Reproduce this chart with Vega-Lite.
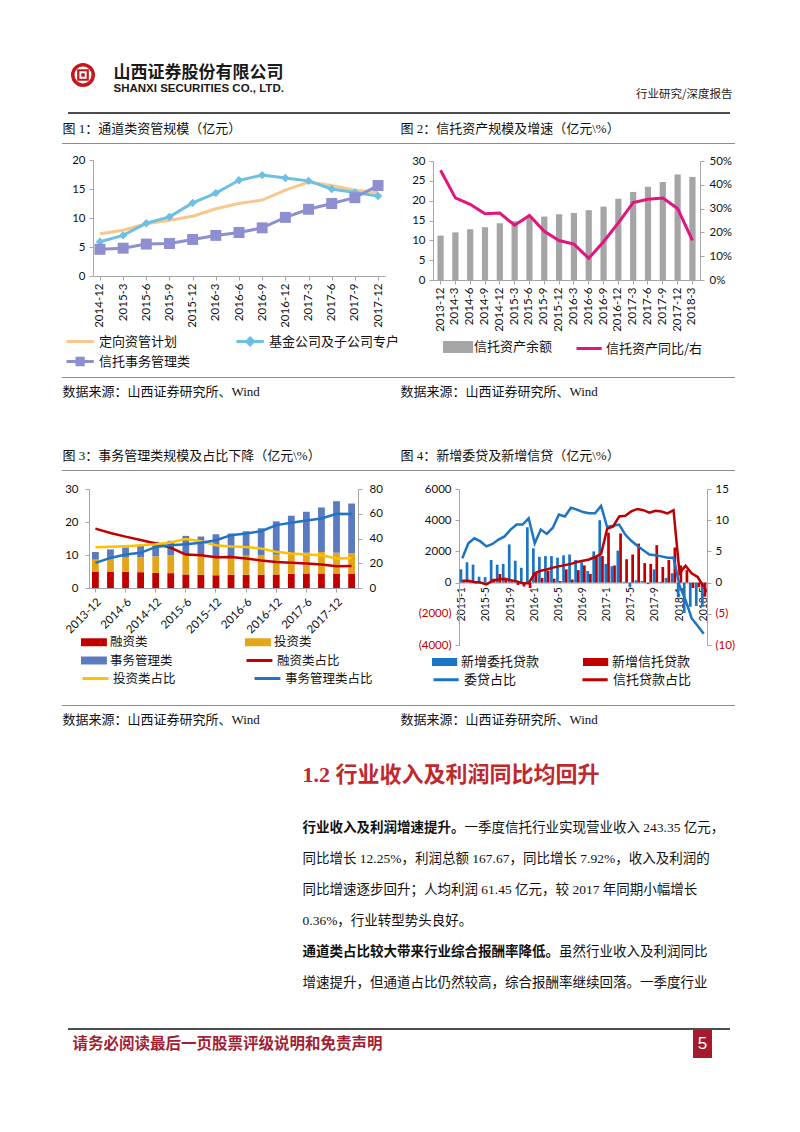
{
"$schema": "https://vega.github.io/schema/vega-lite/v6.json",
"padding": 0,
"background": "#ffffff",
"data": {"values": []},
"spacing": 0,
"resolve": {"scale": {"color": "independent", "fill": "independent", "stroke": "independent"}, "legend": {"color": "independent", "fill": "independent", "stroke": "independent"}},
"config": {
  "view": {"stroke": null},
  "concat": {"spacing": 0},
  "axis": {"labelFont": "Lato, Liberation Sans, sans-serif", "labelFontSize": 11.5, "labelColor": "#111111", "domainColor": "#A6A6A6", "tickColor": "#A6A6A6", "tickSize": 4, "labelPadding": 4, "grid": false, "labelOverlap": false},
  "legend": {"padding": 0, "labelFont": "Noto Sans CJK SC", "labelFontSize": 13, "labelColor": "#111111", "labelLimit": 300}
},
"datasets": {
  "c1": [
    {"q":"2014-12","s":"定向资管计划","v":7.3},{"q":"2015-3","s":"定向资管计划","v":7.9},{"q":"2015-6","s":"定向资管计划","v":9.0},{"q":"2015-9","s":"定向资管计划","v":9.6},{"q":"2015-12","s":"定向资管计划","v":10.3},{"q":"2016-3","s":"定向资管计划","v":11.6},{"q":"2016-6","s":"定向资管计划","v":12.5},{"q":"2016-9","s":"定向资管计划","v":13.1},{"q":"2016-12","s":"定向资管计划","v":14.8},{"q":"2017-3","s":"定向资管计划","v":16.2},{"q":"2017-6","s":"定向资管计划","v":15.6},{"q":"2017-9","s":"定向资管计划","v":14.8},{"q":"2017-12","s":"定向资管计划","v":14.4},
    {"q":"2014-12","s":"基金公司及子公司专户","v":5.9},{"q":"2015-3","s":"基金公司及子公司专户","v":7.0},{"q":"2015-6","s":"基金公司及子公司专户","v":9.1},{"q":"2015-9","s":"基金公司及子公司专户","v":10.2},{"q":"2015-12","s":"基金公司及子公司专户","v":12.6},{"q":"2016-3","s":"基金公司及子公司专户","v":14.3},{"q":"2016-6","s":"基金公司及子公司专户","v":16.5},{"q":"2016-9","s":"基金公司及子公司专户","v":17.4},{"q":"2016-12","s":"基金公司及子公司专户","v":16.9},{"q":"2017-3","s":"基金公司及子公司专户","v":16.4},{"q":"2017-6","s":"基金公司及子公司专户","v":15.0},{"q":"2017-9","s":"基金公司及子公司专户","v":14.4},{"q":"2017-12","s":"基金公司及子公司专户","v":13.8},
    {"q":"2014-12","s":"信托事务管理类","v":4.6},{"q":"2015-3","s":"信托事务管理类","v":4.8},{"q":"2015-6","s":"信托事务管理类","v":5.5},{"q":"2015-9","s":"信托事务管理类","v":5.6},{"q":"2015-12","s":"信托事务管理类","v":6.3},{"q":"2016-3","s":"信托事务管理类","v":7.0},{"q":"2016-6","s":"信托事务管理类","v":7.5},{"q":"2016-9","s":"信托事务管理类","v":8.3},{"q":"2016-12","s":"信托事务管理类","v":10.1},{"q":"2017-3","s":"信托事务管理类","v":11.5},{"q":"2017-6","s":"信托事务管理类","v":12.5},{"q":"2017-9","s":"信托事务管理类","v":13.5},{"q":"2017-12","s":"信托事务管理类","v":15.6}
  ],
  "c2": [
    {"q":"2013-12","s":"信托资产余额","v":11.2},{"q":"2014-3","s":"信托资产余额","v":12.0},{"q":"2014-6","s":"信托资产余额","v":12.8},{"q":"2014-9","s":"信托资产余额","v":13.3},{"q":"2014-12","s":"信托资产余额","v":14.3},{"q":"2015-3","s":"信托资产余额","v":14.8},{"q":"2015-6","s":"信托资产余额","v":16.0},{"q":"2015-9","s":"信托资产余额","v":16.0},{"q":"2015-12","s":"信托资产余额","v":16.6},{"q":"2016-3","s":"信托资产余额","v":16.9},{"q":"2016-6","s":"信托资产余额","v":17.6},{"q":"2016-9","s":"信托资产余额","v":18.5},{"q":"2016-12","s":"信托资产余额","v":20.5},{"q":"2017-3","s":"信托资产余额","v":22.2},{"q":"2017-6","s":"信托资产余额","v":23.5},{"q":"2017-9","s":"信托资产余额","v":24.7},{"q":"2017-12","s":"信托资产余额","v":26.6},{"q":"2018-3","s":"信托资产余额","v":26.0},
    {"q":"2013-12","s":"信托资产同比/右","v":46.1},{"q":"2014-3","s":"信托资产同比/右","v":34.5},{"q":"2014-6","s":"信托资产同比/右","v":31.8},{"q":"2014-9","s":"信托资产同比/右","v":27.8},{"q":"2014-12","s":"信托资产同比/右","v":28.1},{"q":"2015-3","s":"信托资产同比/右","v":23.0},{"q":"2015-6","s":"信托资产同比/右","v":27.1},{"q":"2015-9","s":"信托资产同比/右","v":20.5},{"q":"2015-12","s":"信托资产同比/右","v":16.6},{"q":"2016-3","s":"信托资产同比/右","v":15.1},{"q":"2016-6","s":"信托资产同比/右","v":9.1},{"q":"2016-9","s":"信托资产同比/右","v":16.1},{"q":"2016-12","s":"信托资产同比/右","v":24.0},{"q":"2017-3","s":"信托资产同比/右","v":32.5},{"q":"2017-6","s":"信托资产同比/右","v":33.9},{"q":"2017-9","s":"信托资产同比/右","v":34.4},{"q":"2017-12","s":"信托资产同比/右","v":30.0},{"q":"2018-3","s":"信托资产同比/右","v":16.6}
  ],
  "c3": [
    {"q":"2013-12","s":"融资类","v":5.0},{"q":"2014-3","s":"融资类","v":5.0},{"q":"2014-6","s":"融资类","v":4.9},{"q":"2014-9","s":"融资类","v":4.8},{"q":"2014-12","s":"融资类","v":4.6},{"q":"2015-3","s":"融资类","v":4.5},{"q":"2015-6","s":"融资类","v":4.1},{"q":"2015-9","s":"融资类","v":4.0},{"q":"2015-12","s":"融资类","v":3.9},{"q":"2016-3","s":"融资类","v":4.0},{"q":"2016-6","s":"融资类","v":4.0},{"q":"2016-9","s":"融资类","v":4.0},{"q":"2016-12","s":"融资类","v":4.1},{"q":"2017-3","s":"融资类","v":4.3},{"q":"2017-6","s":"融资类","v":4.4},{"q":"2017-9","s":"融资类","v":4.4},{"q":"2017-12","s":"融资类","v":4.4},{"q":"2018-3","s":"融资类","v":4.4},
    {"q":"2013-12","s":"投资类","v":3.6},{"q":"2014-3","s":"投资类","v":4.0},{"q":"2014-6","s":"投资类","v":4.3},{"q":"2014-9","s":"投资类","v":4.5},{"q":"2014-12","s":"投资类","v":5.0},{"q":"2015-3","s":"投资类","v":5.4},{"q":"2015-6","s":"投资类","v":6.1},{"q":"2015-9","s":"投资类","v":6.0},{"q":"2015-12","s":"投资类","v":5.8},{"q":"2016-3","s":"投资类","v":5.7},{"q":"2016-6","s":"投资类","v":5.8},{"q":"2016-9","s":"投资类","v":5.9},{"q":"2016-12","s":"投资类","v":6.0},{"q":"2017-3","s":"投资类","v":6.2},{"q":"2017-6","s":"投资类","v":6.3},{"q":"2017-9","s":"投资类","v":6.5},{"q":"2017-12","s":"投资类","v":6.3},{"q":"2018-3","s":"投资类","v":6.2},
    {"q":"2013-12","s":"事务管理类","v":2.3},{"q":"2014-3","s":"事务管理类","v":2.7},{"q":"2014-6","s":"事务管理类","v":3.1},{"q":"2014-9","s":"事务管理类","v":3.6},{"q":"2014-12","s":"事务管理类","v":4.4},{"q":"2015-3","s":"事务管理类","v":4.4},{"q":"2015-6","s":"事务管理类","v":5.6},{"q":"2015-9","s":"事务管理类","v":5.6},{"q":"2015-12","s":"事务管理类","v":6.6},{"q":"2016-3","s":"事务管理类","v":6.8},{"q":"2016-6","s":"事务管理类","v":7.4},{"q":"2016-9","s":"事务管理类","v":8.2},{"q":"2016-12","s":"事务管理类","v":10.1},{"q":"2017-3","s":"事务管理类","v":11.4},{"q":"2017-6","s":"事务管理类","v":12.4},{"q":"2017-9","s":"事务管理类","v":13.5},{"q":"2017-12","s":"事务管理类","v":15.6},{"q":"2018-3","s":"事务管理类","v":15.0},
    {"q":"2013-12","s":"融资类占比","v":48.0},{"q":"2014-3","s":"融资类占比","v":44.5},{"q":"2014-6","s":"融资类占比","v":41.5},{"q":"2014-9","s":"融资类占比","v":38.8},{"q":"2014-12","s":"融资类占比","v":36.0},{"q":"2015-3","s":"融资类占比","v":32.5},{"q":"2015-6","s":"融资类占比","v":27.0},{"q":"2015-9","s":"融资类占比","v":26.5},{"q":"2015-12","s":"融资类占比","v":24.9},{"q":"2016-3","s":"融资类占比","v":25.1},{"q":"2016-6","s":"融资类占比","v":23.8},{"q":"2016-9","s":"融资类占比","v":22.2},{"q":"2016-12","s":"融资类占比","v":21.1},{"q":"2017-3","s":"融资类占比","v":20.5},{"q":"2017-6","s":"融资类占比","v":19.7},{"q":"2017-9","s":"融资类占比","v":18.9},{"q":"2017-12","s":"融资类占比","v":17.6},{"q":"2018-3","s":"融资类占比","v":17.8},
    {"q":"2013-12","s":"投资类占比","v":33.0},{"q":"2014-3","s":"投资类占比","v":33.3},{"q":"2014-6","s":"投资类占比","v":33.8},{"q":"2014-9","s":"投资类占比","v":34.5},{"q":"2014-12","s":"投资类占比","v":35.4},{"q":"2015-3","s":"投资类占比","v":36.8},{"q":"2015-6","s":"投资类占比","v":39.5},{"q":"2015-9","s":"投资类占比","v":37.8},{"q":"2015-12","s":"投资类占比","v":34.6},{"q":"2016-3","s":"投资类占比","v":33.5},{"q":"2016-6","s":"投资类占比","v":33.2},{"q":"2016-9","s":"投资类占比","v":31.9},{"q":"2016-12","s":"投资类占比","v":29.2},{"q":"2017-3","s":"投资类占比","v":27.8},{"q":"2017-6","s":"投资类占比","v":27.0},{"q":"2017-9","s":"投资类占比","v":26.5},{"q":"2017-12","s":"投资类占比","v":23.8},{"q":"2018-3","s":"投资类占比","v":24.3},
    {"q":"2013-12","s":"事务管理类占比","v":20.3},{"q":"2014-3","s":"事务管理类占比","v":24.3},{"q":"2014-6","s":"事务管理类占比","v":27.0},{"q":"2014-9","s":"事务管理类占比","v":28.4},{"q":"2014-12","s":"事务管理类占比","v":33.2},{"q":"2015-3","s":"事务管理类占比","v":34.6},{"q":"2015-6","s":"事务管理类占比","v":35.4},{"q":"2015-9","s":"事务管理类占比","v":36.5},{"q":"2015-12","s":"事务管理类占比","v":38.6},{"q":"2016-3","s":"事务管理类占比","v":42.7},{"q":"2016-6","s":"事务管理类占比","v":44.1},{"q":"2016-9","s":"事务管理类占比","v":45.9},{"q":"2016-12","s":"事务管理类占比","v":50.8},{"q":"2017-3","s":"事务管理类占比","v":52.7},{"q":"2017-6","s":"事务管理类占比","v":54.6},{"q":"2017-9","s":"事务管理类占比","v":56.2},{"q":"2017-12","s":"事务管理类占比","v":60.0},{"q":"2018-3","s":"事务管理类占比","v":59.7}
  ],
  "c4": [
    {"m":"2015-1","s":"新增委托贷款","v":850},{"m":"2015-2","s":"新增委托贷款","v":1300},{"m":"2015-3","s":"新增委托贷款","v":1150},{"m":"2015-4","s":"新增委托贷款","v":380},{"m":"2015-5","s":"新增委托贷款","v":350},{"m":"2015-6","s":"新增委托贷款","v":1450},{"m":"2015-7","s":"新增委托贷款","v":1150},{"m":"2015-8","s":"新增委托贷款","v":1200},{"m":"2015-9","s":"新增委托贷款","v":2450},{"m":"2015-10","s":"新增委托贷款","v":1400},{"m":"2015-11","s":"新增委托贷款","v":950},{"m":"2015-12","s":"新增委托贷款","v":3550},
    {"m":"2016-1","s":"新增委托贷款","v":2200},{"m":"2016-2","s":"新增委托贷款","v":1650},{"m":"2016-3","s":"新增委托贷款","v":1700},{"m":"2016-4","s":"新增委托贷款","v":1700},{"m":"2016-5","s":"新增委托贷款","v":1600},{"m":"2016-6","s":"新增委托贷款","v":1750},{"m":"2016-7","s":"新增委托贷款","v":1800},{"m":"2016-8","s":"新增委托贷款","v":1450},{"m":"2016-9","s":"新增委托贷款","v":1300},{"m":"2016-10","s":"新增委托贷款","v":750},{"m":"2016-11","s":"新增委托贷款","v":2000},{"m":"2016-12","s":"新增委托贷款","v":4000},
    {"m":"2017-1","s":"新增委托贷款","v":1200},{"m":"2017-2","s":"新增委托贷款","v":1050},{"m":"2017-3","s":"新增委托贷款","v":2050},{"m":"2017-4","s":"新增委托贷款","v":50},{"m":"2017-5","s":"新增委托贷款","v":-300},{"m":"2017-6","s":"新增委托贷款","v":150},{"m":"2017-7","s":"新增委托贷款","v":100},{"m":"2017-8","s":"新增委托贷款","v":-100},{"m":"2017-9","s":"新增委托贷款","v":850},{"m":"2017-10","s":"新增委托贷款","v":50},{"m":"2017-11","s":"新增委托贷款","v":300},{"m":"2017-12","s":"新增委托贷款","v":600},
    {"m":"2018-1","s":"新增委托贷款","v":-950},{"m":"2018-2","s":"新增委托贷款","v":-1950},{"m":"2018-3","s":"新增委托贷款","v":-1550},{"m":"2018-4","s":"新增委托贷款","v":-1500},{"m":"2018-5","s":"新增委托贷款","v":-1550},
    {"m":"2015-1","s":"新增信托贷款","v":150},{"m":"2015-2","s":"新增信托贷款","v":80},{"m":"2015-3","s":"新增信托贷款","v":-50},{"m":"2015-4","s":"新增信托贷款","v":20},{"m":"2015-5","s":"新增信托贷款","v":-100},{"m":"2015-6","s":"新增信托贷款","v":250},{"m":"2015-7","s":"新增信托贷款","v":550},{"m":"2015-8","s":"新增信托贷款","v":300},{"m":"2015-9","s":"新增信托贷款","v":80},{"m":"2015-10","s":"新增信托贷款","v":-150},{"m":"2015-11","s":"新增信托贷款","v":-250},{"m":"2015-12","s":"新增信托贷款","v":-350},
    {"m":"2016-1","s":"新增信托贷款","v":650},{"m":"2016-2","s":"新增信托贷款","v":300},{"m":"2016-3","s":"新增信托贷款","v":750},{"m":"2016-4","s":"新增信托贷款","v":250},{"m":"2016-5","s":"新增信托贷款","v":100},{"m":"2016-6","s":"新增信托贷款","v":850},{"m":"2016-7","s":"新增信托贷款","v":200},{"m":"2016-8","s":"新增信托贷款","v":800},{"m":"2016-9","s":"新增信托贷款","v":1100},{"m":"2016-10","s":"新增信托贷款","v":550},{"m":"2016-11","s":"新增信托贷款","v":1650},{"m":"2016-12","s":"新增信托贷款","v":1700},
    {"m":"2017-1","s":"新增信托贷款","v":3200},{"m":"2017-2","s":"新增信托贷款","v":1100},{"m":"2017-3","s":"新增信托贷款","v":3150},{"m":"2017-4","s":"新增信托贷款","v":1500},{"m":"2017-5","s":"新增信托贷款","v":1800},{"m":"2017-6","s":"新增信托贷款","v":2500},{"m":"2017-7","s":"新增信托贷款","v":1250},{"m":"2017-8","s":"新增信托贷款","v":1200},{"m":"2017-9","s":"新增信托贷款","v":2400},{"m":"2017-10","s":"新增信托贷款","v":1000},{"m":"2017-11","s":"新增信托贷款","v":1450},{"m":"2017-12","s":"新增信托贷款","v":2250},
    {"m":"2018-1","s":"新增信托贷款","v":1100},{"m":"2018-2","s":"新增信托贷款","v":800},{"m":"2018-3","s":"新增信托贷款","v":-350},{"m":"2018-4","s":"新增信托贷款","v":-300},{"m":"2018-5","s":"新增信托贷款","v":-900},
    {"m":"2015-1","s":"委贷占比","v":3.9},{"m":"2015-2","s":"委贷占比","v":6.3},{"m":"2015-3","s":"委贷占比","v":7.1},{"m":"2015-4","s":"委贷占比","v":6.6},{"m":"2015-5","s":"委贷占比","v":5.8},{"m":"2015-6","s":"委贷占比","v":6.2},{"m":"2015-7","s":"委贷占比","v":6.9},{"m":"2015-8","s":"委贷占比","v":7.4},{"m":"2015-9","s":"委贷占比","v":8.5},{"m":"2015-10","s":"委贷占比","v":9.3},{"m":"2015-11","s":"委贷占比","v":9.3},{"m":"2015-12","s":"委贷占比","v":10.3},
    {"m":"2016-1","s":"委贷占比","v":6.3},{"m":"2016-2","s":"委贷占比","v":8.5},{"m":"2016-3","s":"委贷占比","v":7.8},{"m":"2016-4","s":"委贷占比","v":8.8},{"m":"2016-5","s":"委贷占比","v":10.9},{"m":"2016-6","s":"委贷占比","v":10.6},{"m":"2016-7","s":"委贷占比","v":12.0},{"m":"2016-8","s":"委贷占比","v":11.7},{"m":"2016-9","s":"委贷占比","v":11.3},{"m":"2016-10","s":"委贷占比","v":11.1},{"m":"2016-11","s":"委贷占比","v":11.1},{"m":"2016-12","s":"委贷占比","v":12.3},
    {"m":"2017-1","s":"委贷占比","v":8.9},{"m":"2017-2","s":"委贷占比","v":9.1},{"m":"2017-3","s":"委贷占比","v":9.3},{"m":"2017-4","s":"委贷占比","v":7.7},{"m":"2017-5","s":"委贷占比","v":6.7},{"m":"2017-6","s":"委贷占比","v":5.9},{"m":"2017-7","s":"委贷占比","v":5.2},{"m":"2017-8","s":"委贷占比","v":4.5},{"m":"2017-9","s":"委贷占比","v":4.4},{"m":"2017-10","s":"委贷占比","v":4.2},{"m":"2017-11","s":"委贷占比","v":4.0},{"m":"2017-12","s":"委贷占比","v":4.0},
    {"m":"2018-1","s":"委贷占比","v":-0.5},{"m":"2018-2","s":"委贷占比","v":-2.8},{"m":"2018-3","s":"委贷占比","v":-5.7},{"m":"2018-4","s":"委贷占比","v":-6.9},{"m":"2018-5","s":"委贷占比","v":-8.2},
    {"m":"2015-1","s":"信托贷款占比","v":0.3},{"m":"2015-2","s":"信托贷款占比","v":0.3},{"m":"2015-3","s":"信托贷款占比","v":0.1},{"m":"2015-4","s":"信托贷款占比","v":0.0},{"m":"2015-5","s":"信托贷款占比","v":-0.3},{"m":"2015-6","s":"信托贷款占比","v":0.3},{"m":"2015-7","s":"信托贷款占比","v":0.5},{"m":"2015-8","s":"信托贷款占比","v":0.6},{"m":"2015-9","s":"信托贷款占比","v":0.4},{"m":"2015-10","s":"信托贷款占比","v":0.2},{"m":"2015-11","s":"信托贷款占比","v":-0.1},{"m":"2015-12","s":"信托贷款占比","v":-0.1},
    {"m":"2016-1","s":"信托贷款占比","v":1.5},{"m":"2016-2","s":"信托贷款占比","v":1.9},{"m":"2016-3","s":"信托贷款占比","v":2.1},{"m":"2016-4","s":"信托贷款占比","v":2.4},{"m":"2016-5","s":"信托贷款占比","v":2.6},{"m":"2016-6","s":"信托贷款占比","v":2.8},{"m":"2016-7","s":"信托贷款占比","v":3.0},{"m":"2016-8","s":"信托贷款占比","v":3.3},{"m":"2016-9","s":"信托贷款占比","v":3.5},{"m":"2016-10","s":"信托贷款占比","v":3.7},{"m":"2016-11","s":"信托贷款占比","v":4.1},{"m":"2016-12","s":"信托贷款占比","v":4.6},
    {"m":"2017-1","s":"信托贷款占比","v":8.6},{"m":"2017-2","s":"信托贷款占比","v":9.0},{"m":"2017-3","s":"信托贷款占比","v":10.6},{"m":"2017-4","s":"信托贷款占比","v":10.7},{"m":"2017-5","s":"信托贷款占比","v":11.4},{"m":"2017-6","s":"信托贷款占比","v":11.8},{"m":"2017-7","s":"信托贷款占比","v":11.6},{"m":"2017-8","s":"信托贷款占比","v":11.2},{"m":"2017-9","s":"信托贷款占比","v":11.5},{"m":"2017-10","s":"信托贷款占比","v":11.4},{"m":"2017-11","s":"信托贷款占比","v":11.1},{"m":"2017-12","s":"信托贷款占比","v":11.6},
    {"m":"2018-1","s":"信托贷款占比","v":1.5},{"m":"2018-2","s":"信托贷款占比","v":2.7},{"m":"2018-3","s":"信托贷款占比","v":1.5},{"m":"2018-4","s":"信托贷款占比","v":0.9},{"m":"2018-5","s":"信托贷款占比","v":-0.7}
  ]
},
"vconcat": [
  {"width":800,"height":57,"mark":"point","encoding":{}},
  {"bounds":"flush","spacing":0,"hconcat":[
    {"width":70,"height":50,"mark":"point","encoding":{}},
    {"width":26,"height":26,"data":{"values":[{"logo":"山西证券"}]},"layer":[
      {"mark":{"type":"point","shape":"circle","size":420,"filled":false,"stroke":"#C8161D","strokeWidth":3.5,"opacity":1},"encoding":{}},
      {"mark":{"type":"point","shape":"square","size":90,"filled":false,"stroke":"#C8161D","strokeWidth":2.2,"opacity":1},"encoding":{}},
      {"mark":{"type":"point","shape":"square","size":12,"filled":true,"color":"#C8161D","opacity":1},"encoding":{}}
    ]},
    {"width":17,"height":1,"mark":"point","encoding":{}},
    {"width":1,"height":38,"data":{"values":[{"k":1,"t":"山西证券股份有限公司"},{"k":2,"t":"SHANXI SECURITIES CO., LTD."}]},
     "encoding":{"y":{"field":"k","type":"ordinal","axis":null,"scale":{"type":"point","padding":0.6875}},"text":{"field":"t"}},
     "layer":[
      {"transform":[{"filter":"datum.k === 1"}],"mark":{"type":"text","align":"left","baseline":"middle","font":"Noto Sans CJK SC","fontSize":17,"fontWeight":"bold","color":"#1a1a1a"},"encoding":{}},
      {"transform":[{"filter":"datum.k === 2"}],"mark":{"type":"text","align":"left","baseline":"middle","font":"Liberation Sans","fontSize":11.5,"fontWeight":"bold","color":"#1a1a1a"},"encoding":{}}
     ]},
    {"width":618,"height":1,"mark":"point","encoding":{}},
    {"width":1,"height":50,"data":{"values":[{"t":"行业研究/深度报告"}]},"mark":{"type":"text","align":"right","baseline":"middle","dy":8,"font":"Noto Sans CJK SC","fontSize":11.5,"color":"#1a1a1a"},"encoding":{"text":{"field":"t"}}}
  ]},
  {"bounds":"flush","spacing":0,"hconcat":[{"width":68,"height":2,"mark":"point","encoding":{}},{"width":662,"height":2,"mark":"point","encoding":{},"view":{"fill":"#4d4d4d"}}]},
  {"bounds":"flush","spacing":0,"hconcat":[
    {"width":62,"height":29,"mark":"point","encoding":{}},
    {"width":1,"height":29,"data":{"values":[{"t":"图 1：通道类资管规模（亿元）"}]},"mark":{"type":"text","align":"left","baseline":"middle","font":"Liberation Serif, Noto Sans CJK SC","fontSize":13,"color":"#111111"},"encoding":{"text":{"field":"t"}}},
    {"width":337,"height":1,"mark":"point","encoding":{}},
    {"width":1,"height":29,"data":{"values":[{"t":"图 2：信托资产规模及增速（亿元\\%）"}]},"mark":{"type":"text","align":"left","baseline":"middle","font":"Liberation Serif, Noto Sans CJK SC","fontSize":13,"color":"#111111"},"encoding":{"text":{"field":"t"}}}
  ]},
  {"bounds":"flush","spacing":0,"hconcat":[{"width":62,"height":1,"mark":"point","encoding":{}},{"width":673,"height":1,"mark":"point","encoding":{},"view":{"fill":"#8c8c8c"}}]},
  {"bounds":"flush","spacing":0,
   "resolve": {"scale": {"color": "independent", "fill": "independent", "stroke": "independent"}, "legend": {"color": "independent", "fill": "independent", "stroke": "independent"}},
   "hconcat":[
    {"width":93,"height":233,"mark":"point","encoding":{}},
    {"width":292,"height":233,"data":{"name":"c1"},
     "encoding":{
       "x":{"field":"q","type":"ordinal","scale":{"type":"point","padding":0.3,"domain":["2014-12","2015-3","2015-6","2015-9","2015-12","2016-3","2016-6","2016-9","2016-12","2017-3","2017-6","2017-9","2017-12"]},"axis":{"title":null,"labelAngle":-90,"labelPadding":3,"offset":-101}},
       "y":{"field":"v","type":"quantitative","scale":{"domain":[0,20],"range":[132,16]},"axis":{"title":null,"values":[0,5,10,15,20]}}
     },
     "layer":[
       {"transform":[{"filter":"datum.s === '定向资管计划'"}],"mark":{"type":"line","strokeWidth":3},
        "encoding":{"color":{"field":"s","type":"nominal","scale":{"range":["#F9C78C"]},"legend":{"orient":"none","legendX":-28,"legendY":189,"title":null,"symbolType":"M-1,0H2.9","symbolSize":196,"symbolStrokeWidth":3,"labelOffset":17}}}},
       {"transform":[{"filter":"datum.s === '基金公司及子公司专户'"}],"mark":{"type":"line","strokeWidth":3},
        "encoding":{"stroke":{"field":"s","type":"nominal","scale":{"range":["#6DC0E4"]},"legend":{"orient":"none","legendX":142,"legendY":189,"title":null,"symbolType":"M-1,0H2.9M0.95,-0.5L1.45,0L0.95,0.5L0.45,0Z","symbolSize":196,"symbolStrokeWidth":3,"symbolFillColor":"#6DC0E4","labelOffset":17}}}},
       {"transform":[{"filter":"datum.s === '信托事务管理类'"}],"mark":{"type":"line","strokeWidth":3,"color":"#8E8FD1"},"encoding":{}},
       {"transform":[{"filter":"datum.s === '基金公司及子公司专户'"}],"mark":{"type":"point","shape":"diamond","filled":true,"size":70,"opacity":1,"color":"#6DC0E4"},"encoding":{}},
       {"transform":[{"filter":"datum.s === '信托事务管理类'"}],"mark":{"type":"point","shape":"square","filled":true,"size":120,"opacity":1},
        "encoding":{"fill":{"field":"s","type":"nominal","scale":{"range":["#8E8FD1"]},"legend":{"orient":"none","legendX":-28,"legendY":209,"title":null,"symbolType":"M-1,0H2.9M0.5,-0.45H1.4V0.45H0.5Z","symbolSize":196,"symbolStrokeWidth":3,"symbolStrokeColor":"#8E8FD1","labelOffset":17}}}}
     ]},
    {"width":48,"height":1,"mark":"point","encoding":{}},
    {"width":267,"height":233,"data":{"name":"c2"},
     "encoding":{"x":{"field":"q","type":"ordinal","scale":{"paddingInner":0.58,"paddingOuter":0.3,"domain":["2013-12","2014-3","2014-6","2014-9","2014-12","2015-3","2015-6","2015-9","2015-12","2016-3","2016-6","2016-9","2016-12","2017-3","2017-6","2017-9","2017-12","2018-3"]},"axis":{"title":null,"labelAngle":-90,"labelPadding":3,"offset":-97}}},
     "layer":[
       {"transform":[{"filter":"datum.s === '信托资产余额'"}],"mark":{"type":"bar"},
        "encoding":{
          "y":{"field":"v","type":"quantitative","scale":{"domain":[0,30],"range":[136,17]},"axis":{"title":null,"values":[0,5,10,15,20,25,30]}},
          "fill":{"field":"s","type":"nominal","scale":{"range":["#A5A5A5"]},"legend":{"orient":"none","legendX":10,"legendY":196,"title":null,"symbolType":"M-1,-0.85H3.3V0.85H-1Z","symbolSize":196,"symbolStrokeWidth":0,"labelOffset":17}}}},
       {"transform":[{"filter":"datum.s === '信托资产同比/右'"}],"mark":{"type":"line","strokeWidth":3},
        "encoding":{
          "y":{"field":"v","type":"quantitative","scale":{"domain":[0,50],"range":[136,17]},"axis":{"title":null,"orient":"right","values":[0,10,20,30,40,50],"labelExpr":"datum.value + '%'","labelPadding":5}},
          "stroke":{"field":"s","type":"nominal","scale":{"range":["#E2157E"]},"legend":{"orient":"none","legendX":142,"legendY":196,"title":null,"symbolType":"M-1,0H2.6","symbolSize":196,"symbolStrokeWidth":3,"labelOffset":14}}}}
     ],
     "resolve":{"scale":{"y":"independent"}}}
  ]},
  {"bounds":"flush","spacing":0,"hconcat":[{"width":62,"height":1,"mark":"point","encoding":{}},{"width":673,"height":1,"mark":"point","encoding":{},"view":{"fill":"#8c8c8c"}}]},
  {"bounds":"flush","spacing":0,"hconcat":[
    {"width":62,"height":28,"mark":"point","encoding":{}},
    {"width":1,"height":28,"data":{"values":[{"t":"数据来源：山西证券研究所、Wind"}]},"mark":{"type":"text","align":"left","baseline":"middle","font":"Liberation Serif, Noto Sans CJK SC","fontSize":13,"color":"#111111"},"encoding":{"text":{"field":"t"}}},
    {"width":337,"height":1,"mark":"point","encoding":{}},
    {"width":1,"height":28,"data":{"values":[{"t":"数据来源：山西证券研究所、Wind"}]},"mark":{"type":"text","align":"left","baseline":"middle","font":"Liberation Serif, Noto Sans CJK SC","fontSize":13,"color":"#111111"},"encoding":{"text":{"field":"t"}}}
  ]},
  {"width":1,"height":36,"mark":"point","encoding":{}},
  {"bounds":"flush","spacing":0,"hconcat":[
    {"width":62,"height":28,"mark":"point","encoding":{}},
    {"width":1,"height":28,"data":{"values":[{"t":"图 3：事务管理类规模及占比下降（亿元\\%）"}]},"mark":{"type":"text","align":"left","baseline":"middle","font":"Liberation Serif, Noto Sans CJK SC","fontSize":13,"color":"#111111"},"encoding":{"text":{"field":"t"}}},
    {"width":337,"height":1,"mark":"point","encoding":{}},
    {"width":1,"height":28,"data":{"values":[{"t":"图 4：新增委贷及新增信贷（亿元\\%）"}]},"mark":{"type":"text","align":"left","baseline":"middle","font":"Liberation Serif, Noto Sans CJK SC","fontSize":13,"color":"#111111"},"encoding":{"text":{"field":"t"}}}
  ]},
  {"bounds":"flush","spacing":0,"hconcat":[{"width":62,"height":1,"mark":"point","encoding":{}},{"width":673,"height":1,"mark":"point","encoding":{},"view":{"fill":"#8c8c8c"}}]},
  {"bounds":"flush","spacing":0,
   "resolve": {"scale": {"color": "independent", "fill": "independent", "stroke": "independent"}, "legend": {"color": "independent", "fill": "independent", "stroke": "independent"}},
   "hconcat":[
    {"width":89,"height":234,"mark":"point","encoding":{}},
    {"width":269,"height":234,"data":{"name":"c3"},
     "encoding":{"x":{"field":"q","type":"ordinal","scale":{"paddingInner":0.55,"paddingOuter":0.2,"domain":["2013-12","2014-3","2014-6","2014-9","2014-12","2015-3","2015-6","2015-9","2015-12","2016-3","2016-6","2016-9","2016-12","2017-3","2017-6","2017-9","2017-12","2018-3"]},"axis":{"title":null,"labelAngle":-45,"offset":-117,"values":["2013-12","2014-6","2014-12","2015-6","2015-12","2016-6","2016-12","2017-6","2017-12"]}}},
     "layer":[
       {"transform":[{"filter":"indexof(['融资类','投资类','事务管理类'], datum.s) >= 0"}],"mark":{"type":"bar"},
        "encoding":{
          "y":{"field":"v","type":"quantitative","stack":"zero","scale":{"domain":[0,30],"range":[117,18]},"axis":{"title":null,"values":[0,10,20,30],"labelPadding":7}},
          "order":{"field":"s","sort":"descending"},
          "fill":{"field":"s","type":"nominal","scale":{"domain":["融资类","事务管理类","投资类"],"range":["#C00000","#5B7ABF","#E3A51A"]},
            "legend":{"orient":"none","legendX":-8,"legendY":164,"columns":2,"columnPadding":72,"rowPadding":4.5,"title":null,"symbolType":"M-1,-0.57H2.7V0.57H-1Z","symbolSize":196,"symbolStrokeWidth":0,"labelOffset":15,"labelFontSize":12.5}}}},
       {"transform":[{"filter":"datum.s === '融资类占比'"}],"mark":{"type":"line","strokeWidth":2.5},
        "encoding":{
          "y":{"field":"v","type":"quantitative","scale":{"domain":[0,80],"range":[117,18]},"axis":{"title":null,"orient":"right","values":[0,20,40,60,80],"labelPadding":7}},
          "stroke":{"field":"s","type":"nominal","scale":{"range":["#C00000"]},
            "legend":{"orient":"none","legendX":156,"legendY":181,"title":null,"symbolType":"M-1,0H2.7","symbolSize":196,"symbolStrokeWidth":3,"labelOffset":15,"labelFontSize":12.5}}}},
       {"transform":[{"filter":"datum.s === '投资类占比' || datum.s === '事务管理类占比'"}],"mark":{"type":"line","strokeWidth":2.5},
        "encoding":{
          "y":{"field":"v","type":"quantitative","scale":{"domain":[0,80],"range":[117,18]},"axis":null},
          "color":{"field":"s","type":"nominal","scale":{"domain":["投资类占比","事务管理类占比"],"range":["#FFC000","#1F74C4"]},
            "legend":{"orient":"none","legendX":-8,"legendY":199,"columns":2,"columnPadding":72,"title":null,"symbolType":"M-1,0H2.7","symbolSize":196,"symbolStrokeWidth":3,"labelOffset":15,"labelFontSize":12.5}}}}
     ],
     "resolve":{"scale":{"y":"independent"}}},
    {"width":101,"height":1,"mark":"point","encoding":{}},
    {"width":248,"height":234,"data":{"name":"c4"},
     "encoding":{"x":{"field":"m","type":"ordinal","scale":{"paddingInner":0.1,"paddingOuter":0.1,"domain":["2015-1","2015-2","2015-3","2015-4","2015-5","2015-6","2015-7","2015-8","2015-9","2015-10","2015-11","2015-12","2016-1","2016-2","2016-3","2016-4","2016-5","2016-6","2016-7","2016-8","2016-9","2016-10","2016-11","2016-12","2017-1","2017-2","2017-3","2017-4","2017-5","2017-6","2017-7","2017-8","2017-9","2017-10","2017-11","2017-12","2018-1","2018-2","2018-3","2018-4","2018-5"]},"axis":{"title":null,"labelAngle":-90,"labelFontSize":10.5,"values":["2015-1","2015-5","2015-9","2016-1","2016-5","2016-9","2017-1","2017-5","2017-9","2018-1","2018-5"],"offset":-122.4,"ticks":false,"labelPadding":4}}},
     "layer":[
       {"transform":[{"filter":"datum.s === '新增委托贷款' || datum.s === '新增信托贷款'"}],"mark":{"type":"bar"},
        "encoding":{
          "xOffset":{"field":"s","type":"nominal","scale":{"domain":["新增委托贷款","新增信托贷款"]}},
          "y":{"field":"v","type":"quantitative","scale":{"domain":[-4000,6000],"range":[174,18]},"axis":{"title":null,"orient":"left","values":[0,2000,4000,6000],"labelExpr":"datum.value + '\u00a0\u00a0'"}},
          "fill":{"field":"s","type":"nominal","scale":{"domain":["新增委托贷款","新增信托贷款"],"range":["#1C74C4","#C00000"]},
            "legend":{"orient":"none","legendX":-27,"legendY":184,"columns":2,"columnPadding":43,"title":null,"symbolType":"M-1,-0.57H2.6V0.57H-1Z","symbolSize":196,"symbolStrokeWidth":0,"labelOffset":15}}}},
       {"transform":[{"filter":"datum.s === '委贷占比' || datum.s === '信托贷款占比'"}],"mark":{"type":"line","strokeWidth":2.5},
        "encoding":{
          "y":{"field":"v","type":"quantitative","scale":{"domain":[-10,15],"range":[174,18]},"axis":{"title":null,"orient":"right","values":[0,5,10,15],"labelExpr":"'\u00a0\u00a0' + datum.value"}},
          "stroke":{"field":"s","type":"nominal","scale":{"domain":["委贷占比","信托贷款占比"],"range":["#1C74C4","#C00000"]},
            "legend":{"orient":"none","legendX":-27,"legendY":200,"columns":2,"columnPadding":59,"title":null,"symbolType":"M-1,0H2.6","symbolSize":196,"symbolStrokeWidth":3,"labelOffset":15}}}},
       {"transform":[{"filter":"datum.s === '新增委托贷款' || datum.s === '新增信托贷款'"}],"mark":{"type":"point","opacity":0,"size":1},
        "encoding":{"y":{"field":"v","type":"quantitative","scale":{"domain":[-4000,6000],"range":[174,18]},"axis":{"title":null,"orient":"left","values":[-4000,-2000],"labelExpr":"'(' + (-datum.value) + ')'","labelColor":"#C00000","domain":false}}}},
       {"transform":[{"filter":"datum.s === '委贷占比' || datum.s === '信托贷款占比'"}],"mark":{"type":"point","opacity":0,"size":1},
        "encoding":{"y":{"field":"v","type":"quantitative","scale":{"domain":[-10,15],"range":[174,18]},"axis":{"title":null,"orient":"right","values":[-10,-5],"labelExpr":"'(' + (-datum.value) + ')'","labelColor":"#C00000","domain":false}}}}
     ],
     "resolve":{"scale":{"y":"independent"}}}
  ]},
  {"bounds":"flush","spacing":0,"hconcat":[{"width":62,"height":1,"mark":"point","encoding":{}},{"width":673,"height":1,"mark":"point","encoding":{},"view":{"fill":"#8c8c8c"}}]},
  {"bounds":"flush","spacing":0,"hconcat":[
    {"width":62,"height":28,"mark":"point","encoding":{}},
    {"width":1,"height":28,"data":{"values":[{"t":"数据来源：山西证券研究所、Wind"}]},"mark":{"type":"text","align":"left","baseline":"middle","font":"Liberation Serif, Noto Sans CJK SC","fontSize":13,"color":"#111111"},"encoding":{"text":{"field":"t"}}},
    {"width":337,"height":1,"mark":"point","encoding":{}},
    {"width":1,"height":28,"data":{"values":[{"t":"数据来源：山西证券研究所、Wind"}]},"mark":{"type":"text","align":"left","baseline":"middle","font":"Liberation Serif, Noto Sans CJK SC","fontSize":13,"color":"#111111"},"encoding":{"text":{"field":"t"}}}
  ]},
  {"width":1,"height":30,"mark":"point","encoding":{}},
  {"bounds":"flush","spacing":0,"hconcat":[
    {"width":302,"height":22,"mark":"point","encoding":{}},
    {"width":1,"height":22,"data":{"values":[{"t":"1.2 行业收入及利润同比均回升"}]},"mark":{"type":"text","align":"left","baseline":"middle","font":"Liberation Serif, Noto Sans CJK SC","fontSize":22,"fontWeight":"bold","color":"#C0282D"},"encoding":{"text":{"field":"t"}}}
  ]},
  {"width":1,"height":26,"mark":"point","encoding":{}},
  {"bounds":"flush","spacing":0,"hconcat":[
    {"width":302,"height":186,"mark":"point","encoding":{}},
    {"width":1,"height":186,
     "data":{"values":[
       {"line":1,"lead":"行业收入及利润增速提升。","text":"一季度信托行业实现营业收入 243.35 亿元，"},
       {"line":2,"text":"同比增长 12.25%，利润总额 167.67，同比增长 7.92%，收入及利润的"},
       {"line":3,"text":"同比增速逐步回升；人均利润 61.45 亿元，较 2017 年同期小幅增长"},
       {"line":4,"text":"0.36%，行业转型势头良好。"},
       {"line":5,"lead":"通道类占比较大带来行业综合报酬率降低。","text":"虽然行业收入及利润同比"},
       {"line":6,"text":"增速提升，但通道占比仍然较高，综合报酬率继续回落。一季度行业"}
     ]},
     "encoding":{"y":{"field":"line","type":"ordinal","axis":null,"scale":{"type":"point","padding":0.5}}},
     "layer":[
       {"transform":[{"filter":"isValid(datum.lead)"}],"mark":{"type":"text","align":"left","baseline":"middle","font":"Noto Sans CJK SC","fontSize":13.5,"fontWeight":"bold","color":"#111111"},"encoding":{"text":{"field":"lead"}}},
       {"transform":[{"filter":"datum.line === 1"}],"mark":{"type":"text","align":"left","baseline":"middle","dx":162,"font":"Liberation Serif, Noto Sans CJK SC","fontSize":13.5,"color":"#111111"},"encoding":{"text":{"field":"text"}}},
       {"transform":[{"filter":"datum.line === 5"}],"mark":{"type":"text","align":"left","baseline":"middle","dx":256.5,"font":"Liberation Serif, Noto Sans CJK SC","fontSize":13.5,"color":"#111111"},"encoding":{"text":{"field":"text"}}},
       {"transform":[{"filter":"datum.line !== 1 && datum.line !== 5"}],"mark":{"type":"text","align":"left","baseline":"middle","font":"Liberation Serif, Noto Sans CJK SC","fontSize":13.5,"color":"#111111"},"encoding":{"text":{"field":"text"}}}
     ]}
  ]},
  {"width":1,"height":30,"mark":"point","encoding":{}},
  {"bounds":"flush","spacing":0,"hconcat":[{"width":68,"height":2,"mark":"point","encoding":{}},{"width":662,"height":2,"mark":"point","encoding":{},"view":{"fill":"#4d4d4d"}}]},
  {"bounds":"flush","spacing":0,"hconcat":[
    {"width":72,"height":28,"mark":"point","encoding":{}},
    {"width":1,"height":28,"data":{"values":[{"t":"请务必阅读最后一页股票评级说明和免责声明"}]},"mark":{"type":"text","align":"left","baseline":"middle","font":"Noto Sans CJK SC","fontSize":15.5,"fontWeight":"bold","color":"#A31F34"},"encoding":{"text":{"field":"t"}}},
    {"width":620,"height":1,"mark":"point","encoding":{}},
    {"width":19,"height":28,"view":{"fill":"#A6192E"},"data":{"values":[{"t":"5"}]},"mark":{"type":"text","align":"center","baseline":"middle","font":"Liberation Sans Narrow, Liberation Sans","fontSize":17,"color":"#ffffff"},"encoding":{"text":{"field":"t"}}}
  ]},
  {"width":800,"height":79,"mark":"point","encoding":{}}
]
}
